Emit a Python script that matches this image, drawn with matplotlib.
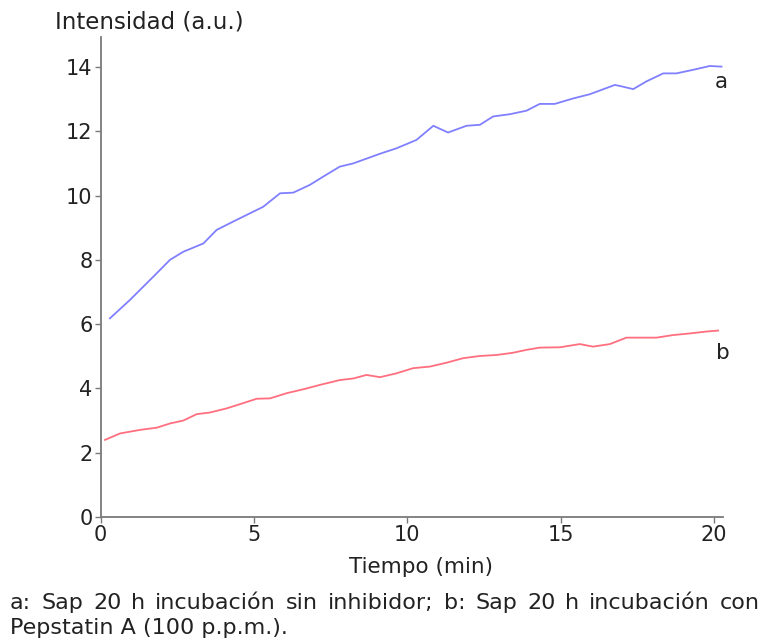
import matplotlib.pyplot as plt
import matplotlib.ticker as tick

# curve a: Sap 20 h sin inhibidor
t_a = [0.30, 0.95, 1.72, 2.26, 2.69, 3.35, 3.78, 4.32, 5.30, 5.85, 6.28, 6.82,
       7.26, 7.80, 8.24, 9.11, 9.65, 10.30, 10.85, 11.33, 11.93, 12.37, 12.80,
       13.35, 13.89, 14.32, 14.81, 15.41, 15.95, 16.77, 16.93, 17.37, 17.80,
       18.35, 18.78, 19.32, 19.87, 20.25]
y_a = [6.18, 6.75, 7.48, 8.00, 8.25, 8.51, 8.93, 9.19, 9.65, 10.07, 10.09, 10.33,
       10.59, 10.90, 11.00, 11.30, 11.47, 11.73, 12.17, 11.96, 12.17, 12.20, 12.46,
       12.53, 12.64, 12.85, 12.85, 13.02, 13.15, 13.44, 13.41, 13.31, 13.55,
       13.80, 13.80, 13.91, 14.03, 14.01]

# curve b: Sap 20 h con Pepstatin A
t_b = [0.14, 0.63, 1.28, 1.83, 2.26, 2.69, 3.13, 3.56, 4.11, 4.54, 5.09, 5.52,
       6.06, 6.72, 7.15, 7.80, 8.24, 8.67, 9.11, 9.65, 10.19, 10.74, 11.28,
       11.82, 12.37, 12.91, 13.45, 13.89, 14.32, 14.98, 15.63, 16.06, 16.61,
       17.15, 17.59, 18.13, 18.67, 19.21, 19.76, 20.14]
y_b = [2.40, 2.60, 2.71, 2.78, 2.91, 3.00, 3.20, 3.25, 3.38, 3.51, 3.68, 3.69,
       3.85, 4.00, 4.11, 4.26, 4.31, 4.42, 4.35, 4.47, 4.63, 4.68, 4.80,
       4.94, 5.01, 5.04, 5.11, 5.20, 5.27, 5.28, 5.38, 5.30, 5.38,
       5.58, 5.58, 5.58, 5.66, 5.71, 5.77, 5.80]

caption = ["a: Sap 20 h incubación sin inhibidor; b: Sap 20 h incubación con",
           "Pepstatin A (100 p.p.m.)."]

W, H = 763, 641
txt = "#222222"
plt.rcParams["font.family"] = "DejaVu Sans"
fig = plt.figure(figsize=(W / 100, H / 100), dpi=100)
ax = fig.add_axes([0.132, 0.1934, 0.8156, 0.7488])

ax.plot(t_a, y_a, color="#8080ff", lw=1.3)
ax.plot(t_b, y_b, color="#ff6f7f", lw=1.3)
ax.text(20.25, 13.53, "a", fontsize=15.5, ha="center", va="center", color=txt)
ax.text(20.3, 5.1, "b", fontsize=15.5, ha="center", va="center", color=txt)

ax.set_xlim(0, 20.3)
ax.set_ylim(0, 14.93)
ax.xaxis.set_major_locator(tick.MultipleLocator(5))
ax.yaxis.set_major_locator(tick.MultipleLocator(2))
for s in ["top", "right"]:
    ax.spines[s].set_visible(False)
for s in ["left", "bottom"]:
    ax.spines[s].set_color("#7a7a7a")
    ax.spines[s].set_linewidth(1.3)
ax.tick_params(direction="out", length=4, width=1, color="#7a7a7a",
               labelsize=15, labelcolor=txt, pad=2)

fig.text(55 / W, 1 - 22 / H, "Intensidad (a.u.)", fontsize=16.5,
         ha="left", va="center", color=txt)
fig.text(421 / W, 1 - 567 / H, "Tiempo (min)", fontsize=15.5,
         ha="center", va="center", color=txt)

# first caption line is justified between x=10 and x=760 px
renderer = fig.canvas.get_renderer()
words = caption[0].split()
arts = [fig.text(0, 1 - 603 / H, w, fontsize=16, ha="left", va="center", color=txt)
        for w in words]
widths = [a.get_window_extent(renderer).width for a in arts]
gap = (750 - sum(widths)) / (len(words) - 1)
x = 10
for a, w in zip(arts, widths):
    a.set_x(x / W)
    x += w + gap
fig.text(10 / W, 1 - 628 / H, caption[1], fontsize=16,
         ha="left", va="center", color=txt)

fig.savefig("out.png", dpi=100)
